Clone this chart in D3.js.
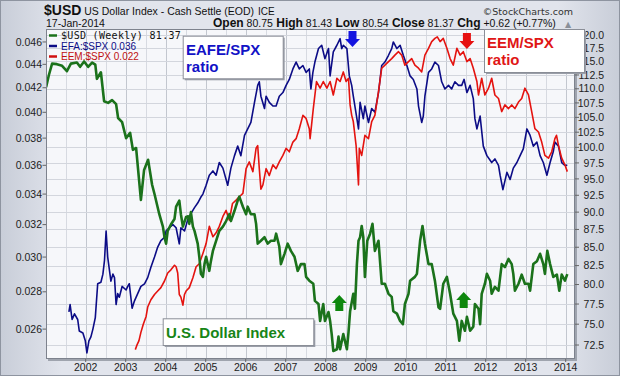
<!DOCTYPE html>
<html>
<head>
<meta charset="utf-8">
<script src="https://cdn.jsdelivr.net/npm/d3@7"></script>
<style>
  body { margin: 0; background: #dde1ea; }
  svg { display: block; }
</style>
</head>
<body>
<div id="chart"></div>
<script>
// ---- data (decimal years) ----
const usdTimes = [2001.01,2001.08,2001.16,2001.28,2001.41,2001.53,2001.63,2001.78,2001.86,2001.96,
  2002.06,2002.16,2002.24,2002.28,2002.38,2002.46,2002.56,2002.66,2002.76,2002.81,2002.91,
  2003.01,2003.11,2003.18,2003.26,2003.38,2003.46,2003.56,2003.66,2003.72,2003.84,2003.93,2003.97,
  2004.01,2004.05,2004.13,2004.22,2004.26,2004.34,2004.38,2004.43,2004.51,2004.56,2004.59,2004.63,2004.68,2004.72,2004.80,2004.84,2004.88,2004.93,2004.97,
  2005.01,2005.09,2005.13,2005.18,2005.26,2005.34,2005.43,2005.51,2005.59,2005.63,2005.72,2005.80,2005.84,2005.93,
  2006.01,2006.05,2006.13,2006.22,2006.26,2006.30,2006.38,2006.47,2006.55,2006.63,2006.72,2006.76,2006.84,2006.88,2006.97,
  2007.05,2007.13,2007.22,2007.30,2007.38,2007.47,2007.51,2007.59,2007.69,2007.73,2007.82,2007.86,2007.94,2007.98,
  2008.07,2008.11,2008.15,2008.19,2008.28,2008.32,2008.36,2008.44,2008.53,2008.57,2008.61,2008.69,2008.73,2008.78,2008.82,2008.86,2008.90,2008.94,2008.98,
  2009.04,2009.11,2009.17,2009.23,2009.32,2009.40,2009.48,2009.57,2009.65,2009.69,2009.78,2009.86,2009.93,2009.98,
  2010.07,2010.11,2010.23,2010.28,2010.36,2010.42,2010.48,2010.57,2010.65,2010.73,2010.82,2010.86,2010.94,
  2011.03,2011.11,2011.19,2011.28,2011.34,2011.40,2011.48,2011.53,2011.61,2011.69,2011.73,2011.82,2011.86,2011.90,2011.98,
  2012.03,2012.11,2012.15,2012.23,2012.32,2012.40,2012.48,2012.57,2012.65,2012.69,2012.73,2012.82,2012.90,2012.98,
  2013.07,2013.11,2013.19,2013.28,2013.36,2013.44,2013.48,2013.54,2013.61,2013.69,2013.78,2013.84,2013.90,2013.98,2014.04];
const usdValues = [110.3,112.5,114.6,114.5,114.2,113.2,114.6,114.8,114.0,115.0,
  114.0,114.8,114.4,111.8,113.0,107.8,107.5,108.0,107.3,104.9,104.2,
  101.5,102.4,99.6,99.9,91.8,96.4,98.0,94.1,92.7,89.7,87.9,86.4,
  85.5,87.3,88.2,89.0,90.8,91.7,89.7,87.9,89.3,89.4,88.3,90.0,87.9,87.3,85.5,83.7,81.4,81.0,82.7,
  83.7,81.8,83.1,84.5,85.9,87.3,87.9,88.7,89.7,88.7,90.2,91.7,92.3,90.8,
  89.7,90.8,89.7,89.7,88.3,85.5,85.9,86.4,85.5,85.9,85.9,86.9,85.1,82.7,84.1,
  85.5,84.5,83.7,81.8,82.7,82.7,81.0,80.5,80.1,77.9,77.5,75.4,77.5,75.4,
  76.5,75.4,73.8,71.8,72.0,73.5,72.0,73.8,72.0,74.0,76.6,78.8,76.9,82.7,85.9,86.4,88.0,86.4,81.0,
  85.9,86.9,88.3,84.5,85.9,80.1,80.1,78.8,78.4,76.6,76.3,75.4,75.0,77.5,
  78.8,80.5,81.0,81.4,85.9,88.0,85.5,82.7,82.7,80.5,77.1,76.9,80.1,
  81.0,78.8,76.3,75.4,73.0,75.4,74.2,75.9,74.2,74.7,77.5,76.9,75.0,78.8,80.1,
  81.4,80.5,78.8,79.7,79.2,82.7,82.3,83.4,82.7,81.4,79.2,80.1,81.3,80.1,
  80.1,79.2,82.7,83.1,84.1,82.7,81.4,84.5,82.7,81.0,81.3,79.2,81.3,80.5,81.37];

const efaTimes = [2001.58,2001.61,2001.66,2001.72,2001.80,2001.84,2001.93,2001.99,
  2002.03,2002.08,2002.13,2002.18,2002.24,2002.30,2002.38,2002.43,2002.47,2002.51,2002.55,2002.63,2002.68,2002.72,2002.76,2002.80,2002.84,2002.91,
  2003.01,2003.05,2003.09,2003.16,2003.22,2003.30,2003.38,2003.47,2003.55,2003.63,2003.72,2003.80,2003.88,2003.97,
  2004.01,2004.09,2004.18,2004.26,2004.34,2004.38,2004.47,2004.55,2004.63,2004.72,2004.80,2004.88,2004.93,
  2005.01,2005.09,2005.18,2005.26,2005.34,2005.43,2005.51,2005.55,2005.63,2005.72,2005.80,2005.88,2005.97,
  2006.05,2006.13,2006.22,2006.30,2006.34,2006.38,2006.47,2006.51,2006.59,2006.68,2006.76,2006.84,2006.93,
  2007.01,2007.09,2007.18,2007.26,2007.34,2007.43,2007.51,2007.59,2007.63,2007.68,2007.73,2007.82,2007.90,2007.98,
  2008.07,2008.11,2008.19,2008.28,2008.36,2008.40,2008.44,2008.53,2008.59,2008.65,2008.69,2008.78,2008.82,2008.86,2008.94,2008.98,
  2009.07,2009.15,2009.23,2009.32,2009.40,2009.48,2009.57,2009.65,2009.69,2009.78,2009.86,2009.94,
  2010.03,2010.11,2010.19,2010.28,2010.32,2010.40,2010.44,2010.48,2010.57,2010.65,2010.73,2010.82,2010.90,2010.98,
  2011.07,2011.15,2011.23,2011.32,2011.40,2011.46,2011.53,2011.61,2011.69,2011.73,2011.78,2011.86,2011.94,
  2012.03,2012.15,2012.23,2012.32,2012.36,2012.43,2012.53,2012.61,2012.69,2012.78,2012.86,2012.94,
  2013.03,2013.11,2013.19,2013.28,2013.36,2013.44,2013.53,2013.61,2013.69,2013.73,2013.82,2013.90,2013.98,2014.04];
const efaValues = [0.0269,0.0273,0.0265,0.0268,0.0265,0.0259,0.0258,0.0254,
  0.0248,0.0254,0.0256,0.0260,0.0266,0.02845,0.02854,0.0290,0.0298,0.0316,0.0300,0.0286,0.0290,0.0288,0.0273,0.0279,0.0277,0.0283,
  0.0281,0.0283,0.02845,0.0271,0.0275,0.0279,0.0283,0.02845,0.0288,0.0294,0.0300,0.0306,0.0310,0.0312,
  0.0316,0.0318,0.0320,0.0318,0.0308,0.0318,0.0316,0.0323,0.0327,0.0331,0.0334,0.0338,0.0340,
  0.0346,0.0353,0.0356,0.0353,0.0362,0.0358,0.0350,0.0346,0.0358,0.0367,0.0374,0.0367,0.0382,
  0.0387,0.0392,0.0408,0.0422,0.0425,0.0413,0.0403,0.0413,0.0408,0.0405,0.0405,0.0413,0.0416,
  0.0422,0.0427,0.0436,0.0442,0.0436,0.0439,0.0433,0.0436,0.0419,0.0433,0.0442,0.0454,0.0457,0.0445,
  0.0454,0.0430,0.0451,0.0457,0.0463,0.0454,0.0457,0.0454,0.0430,0.0422,0.0413,0.0395,0.0387,0.0408,0.0395,0.0405,
  0.0392,0.0403,0.0400,0.0416,0.0439,0.0442,0.0448,0.0454,0.0460,0.0454,0.0457,0.0448,
  0.0439,0.0430,0.0427,0.0419,0.0405,0.0392,0.0397,0.0413,0.0433,0.0436,0.0442,0.0439,0.0425,0.0419,
  0.0422,0.0419,0.0425,0.0422,0.0422,0.0427,0.0416,0.0422,0.0411,0.0395,0.0387,0.0397,0.0374,
  0.0367,0.0362,0.03646,0.0360,0.0353,0.0343,0.0355,0.0350,0.0358,0.0362,0.0367,0.0372,
  0.0387,0.0382,0.0374,0.0377,0.0367,0.0362,0.0353,0.0362,0.0370,0.0377,0.0374,0.0362,0.0360,0.0360];

const eemTimes = [2003.24,2003.28,2003.33,2003.38,2003.44,2003.51,2003.55,2003.63,2003.72,2003.80,2003.88,2003.97,
  2004.05,2004.13,2004.22,2004.26,2004.30,2004.34,2004.38,2004.43,2004.47,2004.51,2004.59,2004.68,2004.76,2004.84,2004.93,
  2005.01,2005.09,2005.18,2005.26,2005.34,2005.43,2005.51,2005.59,2005.67,2005.76,2005.84,2005.93,
  2006.01,2006.09,2006.18,2006.26,2006.30,2006.34,2006.38,2006.43,2006.51,2006.59,2006.68,2006.76,2006.84,2006.93,
  2007.01,2007.09,2007.18,2007.26,2007.34,2007.43,2007.51,2007.59,2007.61,2007.69,2007.77,2007.86,2007.94,
  2008.03,2008.11,2008.19,2008.28,2008.36,2008.44,2008.51,2008.57,2008.61,2008.65,2008.69,2008.76,2008.82,2008.84,2008.90,2008.98,
  2009.07,2009.15,2009.23,2009.32,2009.40,2009.48,2009.57,2009.65,2009.73,2009.82,2009.90,2009.98,
  2010.07,2010.15,2010.23,2010.32,2010.40,2010.48,2010.57,2010.65,2010.73,2010.79,2010.86,2010.94,
  2011.03,2011.11,2011.19,2011.28,2011.36,2011.44,2011.53,2011.61,2011.69,2011.78,2011.82,2011.90,2011.98,
  2012.07,2012.15,2012.23,2012.32,2012.40,2012.48,2012.57,2012.65,2012.73,2012.82,2012.90,2012.98,
  2013.07,2013.15,2013.23,2013.32,2013.40,2013.48,2013.57,2013.65,2013.73,2013.77,2013.82,2013.90,2013.98,2014.04];
const eemValues = [0.0097,0.0099,0.0101,0.0105,0.0109,0.0113,0.0118,0.0122,0.0125,0.0127,0.0129,0.0133,
  0.0138,0.0140,0.0143,0.0142,0.0138,0.0125,0.01235,0.0119,0.0125,0.0127,0.0129,0.0135,0.0142,0.0144,0.0151,
  0.0158,0.0171,0.0163,0.0166,0.0171,0.0179,0.0184,0.0176,0.0190,0.0193,0.0196,0.0199,
  0.0223,0.0230,0.0220,0.0245,0.0248,0.0223,0.0203,0.0207,0.0223,0.0216,0.0227,0.0223,0.0230,0.0237,
  0.0245,0.0241,0.0252,0.0256,0.0268,0.0285,0.0281,0.0268,0.0256,0.0294,0.0333,0.0323,0.0333,
  0.0323,0.0333,0.0313,0.0338,0.0333,0.0348,0.0333,0.0338,0.0299,0.0285,0.0277,0.0248,0.0207,0.0245,0.0237,0.0260,
  0.0256,0.0277,0.0285,0.0318,0.0354,0.0359,0.0365,0.0370,0.0376,0.0382,0.0376,0.0359,
  0.0365,0.0370,0.0359,0.0354,0.0348,0.0376,0.0388,0.0400,0.0406,0.0409,0.0400,0.0406,
  0.0388,0.0370,0.0359,0.0388,0.0376,0.0382,0.0365,0.0370,0.0354,0.0333,0.0313,0.0338,0.0313,
  0.0323,0.0338,0.0313,0.0308,0.0290,0.0299,0.0294,0.0299,0.0294,0.0303,0.0308,0.0323,
  0.0313,0.0290,0.0268,0.0264,0.0252,0.0237,0.0234,0.0241,0.0256,0.0260,0.0248,0.0234,0.0227,0.0220];

const leftTicks = [0.026,0.028,0.030,0.032,0.034,0.036,0.038,0.040,0.042,0.044,0.046];
const rightTicks = [72.5,75,77.5,80,82.5,85,87.5,90,92.5,95,97.5,100,102.5,105,107.5,110,112.5,115,117.5,120];
const yearTicks = [2002,2003,2004,2005,2006,2007,2008,2009,2010,2011,2012,2013,2014];

const W = 620, H = 376;
const plot = {left: 46, right: 575, top: 29, bottom: 359};
const sans = "'Liberation Sans', Arial, sans-serif";

const svg = d3.select("#chart").append("svg").attr("width", W).attr("height", H);

// background
const defs = svg.append("defs");
const bg = defs.append("linearGradient").attr("id", "bg").attr("x1", 0).attr("x2", 1).attr("y1", 0).attr("y2", 0);
bg.append("stop").attr("offset", "0%").attr("stop-color", "#c8cdd8");
bg.append("stop").attr("offset", "10%").attr("stop-color", "#e1e4ec");
bg.append("stop").attr("offset", "90%").attr("stop-color", "#e1e4ec");
bg.append("stop").attr("offset", "100%").attr("stop-color", "#c8cdd8");
svg.append("rect").attr("width", W).attr("height", H).attr("fill", "url(#bg)");
svg.append("rect").attr("x", 0.5).attr("y", 0.5).attr("width", W - 1).attr("height", H - 1)
  .attr("fill", "none").attr("stroke", "#8e94a0");

defs.append("clipPath").attr("id", "clip").append("rect")
  .attr("x", plot.left).attr("y", plot.top)
  .attr("width", plot.right - plot.left).attr("height", plot.bottom - plot.top);

// scales
const x = d3.scaleLinear().domain([2001.0075, 2014.2325]).range([plot.left, plot.right]);
const yRight = d3.scaleLog().domain([70.87, 121.24]).range([plot.bottom, plot.top]);
const yLeft = d3.scaleLog().domain([0.0245, 0.0472]).range([plot.bottom, plot.top]);
const yEem = d3.scaleLog().domain([0.00929, 0.0424]).range([plot.bottom, plot.top]);

// plot frame
svg.append("rect").attr("x", plot.left + 2).attr("y", plot.top + 2)
  .attr("width", plot.right - plot.left).attr("height", plot.bottom - plot.top).attr("fill", "#9fa4ae");
svg.append("rect").attr("x", plot.left).attr("y", plot.top)
  .attr("width", plot.right - plot.left).attr("height", plot.bottom - plot.top).attr("fill", "#f6f7fa");

// grid
const grid = svg.append("g").attr("clip-path", "url(#clip)");
const halfYears = d3.range(2001.5, 2014.3, 0.5);
grid.selectAll("line.v").data(halfYears).enter().append("line")
  .attr("x1", d => Math.round(x(d)) + 0.5).attr("x2", d => Math.round(x(d)) + 0.5)
  .attr("y1", plot.top).attr("y2", plot.bottom)
  .attr("stroke", d => d % 1 === 0 ? "#c3c7cf" : "#d7dae1").attr("stroke-width", 1);
grid.selectAll("line.h").data(rightTicks).enter().append("line")
  .attr("x1", plot.left).attr("x2", plot.right)
  .attr("y1", d => Math.round(yRight(d)) + 0.5).attr("y2", d => Math.round(yRight(d)) + 0.5)
  .attr("stroke", "#d3d6dd").attr("stroke-width", 1);

// lines
const lines = svg.append("g").attr("clip-path", "url(#clip)");
function series(times, values, y) {
  return d3.line().x((d, i) => x(times[i])).y((d, i) => y(values[i]))(values);
}
lines.append("path").attr("d", series(efaTimes, efaValues, yLeft))
  .attr("fill", "none").attr("stroke", "#0c0c86").attr("stroke-width", 1.6).attr("stroke-linejoin", "round");
lines.append("path").attr("d", series(eemTimes, eemValues, yEem))
  .attr("fill", "none").attr("stroke", "#e4130f").attr("stroke-width", 1.6).attr("stroke-linejoin", "round");
lines.append("path").attr("d", series(usdTimes, usdValues, yRight))
  .attr("fill", "none").attr("stroke", "#1b721b").attr("stroke-width", 2.6).attr("stroke-linejoin", "round");

svg.append("rect").attr("x", plot.left + 0.5).attr("y", plot.top + 0.5)
  .attr("width", plot.right - plot.left - 1).attr("height", plot.bottom - plot.top - 1)
  .attr("fill", "none").attr("stroke", "#7d828d");

// axes
const axisText = g => g.attr("font-family", sans).attr("fill", "#222");
const left = svg.append("g").call(axisText).attr("font-size", 10.5);
left.selectAll("line").data(leftTicks).enter().append("line")
  .attr("x1", 42.5).attr("x2", plot.left).attr("y1", d => yLeft(d)).attr("y2", d => yLeft(d)).attr("stroke", "#666");
left.selectAll("text").data(leftTicks).enter().append("text")
  .attr("x", 42).attr("y", d => yLeft(d)).attr("dy", "0.35em").attr("text-anchor", "end")
  .text(d3.format(".3f"));

const right = svg.append("g").call(axisText).attr("font-size", 10.5);
right.selectAll("line").data(rightTicks).enter().append("line")
  .attr("x1", plot.right).attr("x2", plot.right + 4).attr("y1", d => yRight(d)).attr("y2", d => yRight(d)).attr("stroke", "#666");
right.selectAll("text").data(rightTicks).enter().append("text")
  .attr("x", 604).attr("y", d => yRight(d)).attr("dy", "0.35em").attr("text-anchor", "end")
  .text(d3.format(".1f"));

const bottom = svg.append("g").call(axisText).attr("font-size", 10.5);
bottom.selectAll("line").data(yearTicks).enter().append("line")
  .attr("x1", d => x(d)).attr("x2", d => x(d)).attr("y1", plot.bottom).attr("y2", plot.bottom + 3).attr("stroke", "#666");
bottom.selectAll("text").data(yearTicks).enter().append("text")
  .attr("x", d => x(d)).attr("y", 370.5).attr("text-anchor", "middle").text(d => d);

// header
const h1 = svg.append("text").attr("x", 44).attr("y", 15).attr("font-family", sans).attr("fill", "#111");
h1.append("tspan").attr("font-weight", "bold").attr("font-size", 14).text("$USD");
h1.append("tspan").attr("font-size", 10.5).text(" US Dollar Index - Cash Settle (EOD)");
h1.append("tspan").attr("font-size", 10).attr("dx", 4).text("ICE");
svg.append("text").attr("x", 573).attr("y", 15).attr("text-anchor", "end")
  .attr("font-family", "'DejaVu Sans', Verdana, sans-serif").attr("font-size", 9.5).attr("fill", "#333")
  .text("©StockCharts.com");

svg.append("text").attr("x", 46).attr("y", 27).attr("font-family", sans).attr("font-size", 10.5)
  .attr("fill", "#111").text("17-Jan-2014");
const quote = [["Open", "80.75"], ["High", "81.43"], ["Low", "80.54"], ["Close", "81.37"], ["Chg", "+0.62 (+0.77%)"]];
const h2 = svg.append("text").attr("x", 213).attr("y", 27).attr("font-family", sans).attr("fill", "#111");
quote.forEach(([k, v], i) => {
  h2.append("tspan").attr("font-weight", "bold").attr("font-size", 12).text((i ? " " : "") + k);
  h2.append("tspan").attr("font-size", 10.5).text(" " + v);
});
svg.append("text").attr("x", 568).attr("y", 26.5).attr("text-anchor", "middle")
  .attr("font-family", "'DejaVu Sans', sans-serif").attr("font-size", 8).attr("fill", "#8a8f99").text("▲");

// legend
const legendRows = [
  {label: "$USD (Weekly) 81.37", color: "#1b721b", text: "#111", font: "'DejaVu Sans Mono', monospace", spacing: 0.3},
  {label: "EFA:$SPX 0.036", color: "#0c0c86", text: "#0c0c86", font: sans, spacing: 0},
  {label: "EEM:$SPX 0.022", color: "#d01010", text: "#c01010", font: sans, spacing: 0}
];
const legend = svg.append("g").selectAll("g").data(legendRows).enter().append("g")
  .attr("transform", (d, i) => "translate(0," + (35.5 + i * 10.5) + ")");
legend.append("line").attr("x1", 49).attr("x2", 57).attr("stroke", d => d.color).attr("stroke-width", 2.5);
legend.append("text").attr("x", 61).attr("dy", "0.35em").attr("font-family", d => d.font)
  .attr("font-size", 10).attr("letter-spacing", d => d.spacing).attr("fill", d => d.text).text(d => d.label);

// annotation boxes
const notes = [
  {x: 182.7, y: 35.7, w: 100, h: 42.6, color: "#1212c6", lines: ["EAFE/SPX", "ratio"], tx: 186, ty: [54.5, 71.7]},
  {x: 484, y: 29, w: 100, h: 43, color: "#e01616", lines: ["EEM/SPX", "ratio"], tx: 487, ty: [48.3, 65.3]},
  {x: 162.7, y: 318.3, w: 150.6, h: 26.7, color: "#178517", lines: ["U.S. Dollar Index"], tx: 166, ty: [338.3]}
];
const note = svg.append("g").selectAll("g").data(notes).enter().append("g");
note.append("rect").attr("x", d => d.x + 2).attr("y", d => d.y + 2).attr("width", d => d.w).attr("height", d => d.h)
  .attr("fill", "#9a9ea8");
note.append("rect").attr("x", d => d.x + 0.5).attr("y", d => d.y + 0.5).attr("width", d => d.w).attr("height", d => d.h)
  .attr("fill", "#fff").attr("stroke", "#8a8e97");
note.each(function(d) {
  d.lines.forEach((t, i) => {
    d3.select(this).append("text").attr("x", d.tx).attr("y", d.ty[i])
      .attr("font-family", sans).attr("font-weight", "bold").attr("font-size", 15)
      .attr("fill", d.color).text(t);
  });
});

// arrows
const arrows = [
  {t: 2008.67, tip: 47, dir: 1, color: "#1414e0"},
  {t: 2011.53, tip: 49, dir: 1, color: "#e61010"},
  {t: 2008.34, tip: 295, dir: -1, color: "#0e870e"},
  {t: 2011.45, tip: 292, dir: -1, color: "#0e870e"}
];
const shape = [[-4, -16], [4, -16], [4, -8], [7.5, -8], [0, 0], [-7.5, -8], [-4, -8]];
svg.append("g").selectAll("path").data(arrows).enter().append("path")
  .attr("d", d => "M" + shape.map(p => [x(d.t) + p[0], d.tip + p[1] * d.dir].join(",")).join("L") + "Z")
  .attr("fill", d => d.color);
</script>
</body>
</html>
